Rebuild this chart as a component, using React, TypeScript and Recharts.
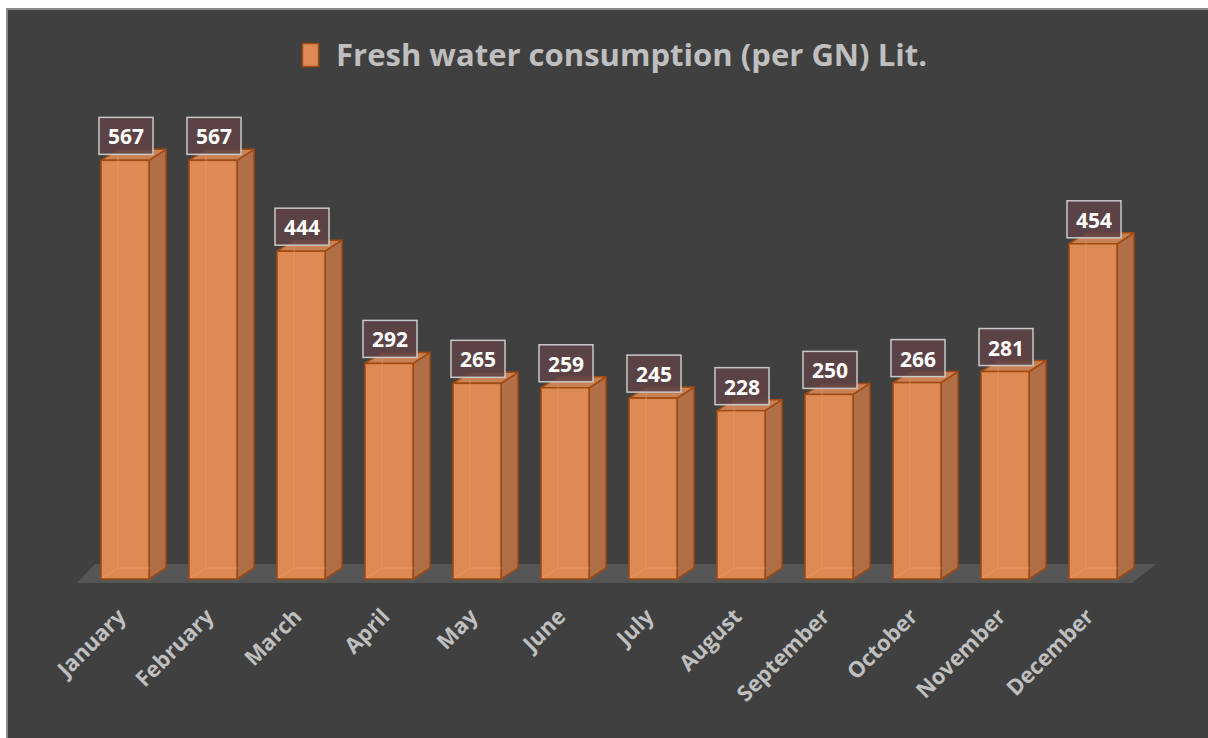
import { BarChart, Bar, XAxis, YAxis, LabelList, ReferenceArea } from 'recharts';

const MONTHS = [
  'January', 'February', 'March', 'April', 'May', 'June',
  'July', 'August', 'September', 'October', 'November', 'December',
];
const CONSUMPTION = [567, 567, 444, 292, 265, 259, 245, 228, 250, 266, 281, 454];
const Y_DOMAIN = [0, 600];
const SERIES_NAME = 'Fresh water consumption (per GN) Lit.';

const data = MONTHS.map((month, i) => ({ month, value: CONSUMPTION[i] }));

const FRONT = '#de8a55';
const SIDE = '#b06f46';
const TOP = '#d98855';
const EDGE = '#9e4a12';
const DX = 17;
const DY = 11;

// box-ish 3d bar, like the excel one
const Box3D = (props: any) => {
  const { x, y, width: w, height: h } = props;
  if (!h || h <= 0) return null;
  return (
    <g>
      <polygon
        points={`${x + w},${y} ${x + w + DX},${y - DY} ${x + w + DX},${y + h - DY} ${x + w},${y + h}`}
        fill={SIDE}
        stroke={EDGE}
        strokeWidth={1.5}
        strokeLinejoin="round"
      />
      <polygon
        points={`${x},${y} ${x + DX},${y - DY} ${x + w + DX},${y - DY} ${x + w},${y}`}
        fill={TOP}
        fillOpacity={0.9}
        stroke={EDGE}
        strokeWidth={1.5}
        strokeLinejoin="round"
      />
      <rect x={x} y={y} width={w} height={h} fill={FRONT} stroke={EDGE} strokeWidth={1.5} />
      {/* back edges seen through */}
      <g stroke="#f0a36f" strokeOpacity={0.55} strokeWidth={1}>
        <line x1={x + DX} y1={y - DY + 2} x2={x + DX} y2={y + h - DY} />
        <line x1={x + DX} y1={y + h - DY} x2={x + w} y2={y + h - DY} />
        <line x1={x + 1} y1={y + h - 1} x2={x + DX} y2={y + h - DY} />
      </g>
    </g>
  );
};

const ValueBox = (props: any) => {
  const { x, y, width, value } = props;
  const cx = x + width / 2 + 1;
  return (
    <g>
      <rect
        x={cx - 27}
        y={y - 43}
        width={54}
        height={37}
        fill="#5e4245"
        fillOpacity={0.88}
        stroke="#c8c8c8"
        strokeWidth={1.5}
      />
      <text
        x={cx}
        y={y - 24}
        textAnchor="middle"
        dominantBaseline="central"
        fill="#ffffff"
        fontSize={21}
        fontWeight={700}
        fontFamily="'Open Sans', sans-serif"
      >
        {value}
      </text>
    </g>
  );
};

const Floor = (props: any) => {
  const { x, y, width, height } = props;
  const base = y + height;
  const l = x;
  const r = x + width;
  return (
    <polygon
      points={`${l - 4},${base + 4} ${r - 5},${base + 4} ${r + 19},${base - 15} ${l + 14},${base - 15}`}
      fill="#565656"
    />
  );
};

const MonthTick = (props: any) => {
  const { x, y, payload } = props;
  return (
    <g transform={`translate(${x + 2},${y + 39})`}>
      <text
        textAnchor="end"
        transform="rotate(-45)"
        fill="#bfbfbf"
        fontSize={22}
        fontWeight={700}
        fontFamily="'Open Sans', sans-serif"
      >
        {payload.value}
      </text>
    </g>
  );
};

export default function App() {
  return (
    <div
      style={{
        position: 'fixed',
        left: 6,
        top: 8,
        right: 0,
        bottom: 0,
        background: '#404040',
        borderLeft: '2px solid #8a8a8a',
        borderTop: '2px solid #8a8a8a',
        boxSizing: 'border-box',
        overflow: 'hidden',
        fontFamily: "'Open Sans', sans-serif",
      }}
    >
      <style>{'html,body{overflow:hidden}'}</style>
      <div style={{ position: 'absolute', left: 0, top: -2 }}>
        <BarChart
          width={1200}
          height={730}
          data={data}
          margin={{ top: 128, right: 71, bottom: 0, left: 73 }}
          barCategoryGap={20}
        >
          <ReferenceArea
            x1="January"
            x2="December"
            y1={0}
            y2={20}
            ifOverflow="visible"
            shape={<Floor />}
          />
          <XAxis
            dataKey="month"
            axisLine={false}
            tickLine={false}
            tickSize={0}
            tickMargin={0}
            height={159}
            interval={0}
            tick={<MonthTick />}
          />
          <YAxis hide domain={Y_DOMAIN} />
          <Bar dataKey="value" name={SERIES_NAME} barSize={48} shape={<Box3D />} isAnimationActive={false}>
            <LabelList dataKey="value" content={<ValueBox />} />
          </Bar>
        </BarChart>
      </div>
      <svg
        width={1200}
        height={90}
        style={{ position: 'absolute', left: 0, top: -2, pointerEvents: 'none' }}
      >
        <rect x={294.5} y={35.5} width={16} height={23} fill={FRONT} stroke={EDGE} strokeWidth={1.5} />
        <text
          x={328}
          y={58}
          fill="#bfbfbf"
          fontSize={31}
          fontWeight={700}
          fontFamily="'Open Sans', sans-serif"
          textLength={591}
          lengthAdjust="spacingAndGlyphs"
        >
          {SERIES_NAME}
        </text>
      </svg>
    </div>
  );
}
